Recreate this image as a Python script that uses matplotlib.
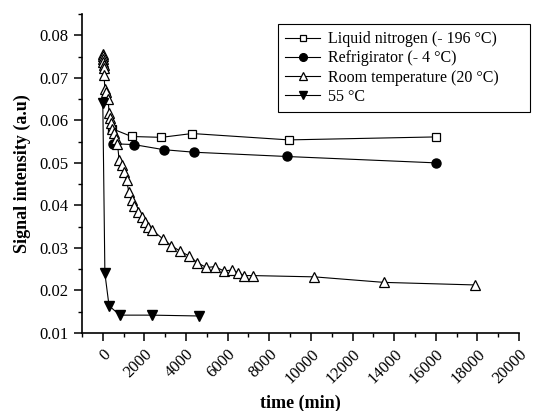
import matplotlib
matplotlib.use('Agg')
import matplotlib.pyplot as plt
from matplotlib.ticker import MultipleLocator

plt.rcParams['font.family'] = ['Liberation Serif', 'DejaVu Serif']

# liquid nitrogen (-196 C)
ln_time = [465, 1380, 2820, 4290, 8940, 16000]
ln_signal = [0.0580, 0.0562, 0.0560, 0.0569, 0.0554, 0.0561]

# refrigerator (-4 C)
fr_time = [495, 1490, 2930, 4390, 8830, 16000]
fr_signal = [0.0545, 0.0543, 0.0531, 0.0525, 0.0515, 0.0500]

# room temperature (20 C)
rt_time = [0, 10, 20, 30, 40, 50, 60, 100, 170, 255, 300, 350, 415, 465, 530,
           625, 705, 785, 900, 1010, 1140, 1250, 1380, 1505, 1700, 1860,
           2020, 2180, 2370, 2870, 3300, 3700, 4150, 4550, 4980, 5380,
           5820, 6220, 6480, 6780, 7200, 10160, 13510, 17870]
rt_signal = [0.0757, 0.0752, 0.0745, 0.0738, 0.0730, 0.0722, 0.0706, 0.0674,
             0.0666, 0.0651, 0.0617, 0.0606, 0.0594, 0.0580, 0.0570, 0.0557,
             0.0545, 0.0506, 0.0494, 0.0478, 0.0459, 0.0432, 0.0412, 0.0398,
             0.0385, 0.0373, 0.0361, 0.0350, 0.0342, 0.0322, 0.0305, 0.0293,
             0.0281, 0.0265, 0.0254, 0.0256, 0.0246, 0.0248, 0.0242, 0.0235,
             0.0235, 0.0232, 0.0219, 0.0213]

# 55 C
hot_time = [0, 100, 300, 820, 2370, 4630]
hot_signal = [0.0640, 0.0240, 0.0164, 0.0142, 0.0142, 0.0140]

fig = plt.figure(figsize=(5.34, 4.11), dpi=100)
ax = fig.add_axes([82 / 534, 1 - 333 / 411, (519 - 82) / 534, (333 - 14) / 411])

lw = 0.8
ms = 6.5
ax.plot(ln_time, ln_signal, color='black', lw=lw, marker='s', ms=ms - 1,
        mfc='white', mec='black', mew=0.9, label='Liquid nitrogen (- 196 °C)')
ax.plot(fr_time, fr_signal, color='black', lw=lw, marker='o', ms=ms,
        mfc='black', mec='black', label='Refrigirator (- 4 °C)')
ax.plot(rt_time, rt_signal, color='black', lw=lw, marker='^', ms=ms + 0.5,
        mfc='white', mec='black', mew=0.9, label='Room temperature (20 °C)')
ax.plot(hot_time, hot_signal, color='black', lw=lw, marker='v', ms=ms + 0.5,
        mfc='black', mec='black', label='55 °C')

ax.set_xlim(-1000, 20000)
ax.set_ylim(0.01, 0.085)
ax.xaxis.set_major_locator(MultipleLocator(2000))
ax.xaxis.set_minor_locator(MultipleLocator(1000))
ax.yaxis.set_minor_locator(MultipleLocator(0.005))
ax.set_yticks([0.01, 0.02, 0.03, 0.04, 0.05, 0.06, 0.07, 0.08])
ax.set_yticklabels(['0.01', '0.02', '0.03', '0.04', '0.05', '0.06', '0.07', '0.08'])

for s in ['top', 'right']:
    ax.spines[s].set_visible(False)
for s in ['left', 'bottom']:
    ax.spines[s].set_linewidth(1.2)

ax.tick_params(which='major', direction='out', length=6, width=1.1, labelsize=12)
ax.tick_params(which='minor', direction='out', length=3, width=1.0)
for lab in ax.get_xticklabels():
    lab.set_rotation(45)
    lab.set_ha('right')
    lab.set_va('top')
    lab.set_rotation_mode('anchor')

ax.set_xlabel('time (min)', fontsize=13, fontweight='bold', labelpad=6)
ax.set_ylabel('Signal intensity (a.u)', fontsize=13, fontweight='bold', labelpad=6)

leg = fig.legend(loc='upper left',
                 bbox_to_anchor=(278 / 534, 1 - 112 / 411, 252 / 534, 88 / 411),
                 mode='expand', fontsize=11.5, fancybox=False, edgecolor='black',
                 framealpha=1, handlelength=2.2, handletextpad=0.5,
                 labelspacing=0.2, borderpad=0.45, borderaxespad=0,
                 markerscale=0.85)
leg.get_frame().set_linewidth(0.8)

fig.savefig('out.png', dpi=100)
